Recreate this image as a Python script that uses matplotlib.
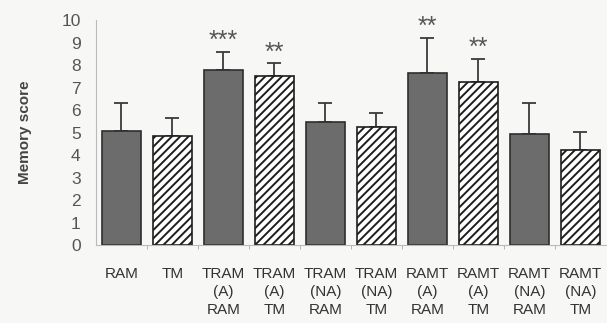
import matplotlib
matplotlib.use("Agg")
import matplotlib.pyplot as plt
import numpy as np

# values
labels = ["RAM", "TM", "TRAM\n(A)\nRAM", "TRAM\n(A)\nTM", "TRAM\n(NA)\nRAM",
          "TRAM\n(NA)\nTM", "RAMT\n(A)\nRAM", "RAMT\n(A)\nTM", "RAMT\n(NA)\nRAM",
          "RAMT\n(NA)\nTM"]
means = [5.05, 4.85, 7.8, 7.5, 5.45, 5.27, 7.65, 7.25, 4.92, 4.22]
upper = [6.32, 5.63, 8.6, 8.07, 6.33, 5.85, 9.22, 8.28, 6.3, 5.03]
stars = ["", "", "***", "**", "", "", "**", "**", "", ""]

plt.rcParams["font.family"] = ["Liberation Sans", "DejaVu Sans"]
plt.rcParams["hatch.linewidth"] = 1.4

bg = "#f7f7f5"
fig = plt.figure(figsize=(6.07, 3.23), dpi=100, facecolor=bg)
ax = fig.add_axes([0.158, 0.241, 0.84, 0.697], facecolor=bg)

x = np.arange(len(means))
err = np.array(upper) - np.array(means)
for i in x:
    if i % 2 == 0:
        ax.bar(i, means[i], width=0.77, color="#6c6c6c", edgecolor="#2e2e2e",
               linewidth=1.2, zorder=2)
    else:
        ax.bar(i, means[i], width=0.77, color="white", edgecolor="#1e1e1e",
               hatch="////", linewidth=1.2, zorder=2)
    ax.errorbar(i, means[i], yerr=[[0], [err[i]]], color="#3a3a3a",
                elinewidth=1.3, capsize=5, capthick=1.3, zorder=1)
    if stars[i]:
        ax.text(i, upper[i] - 0.05, stars[i], ha="center", va="bottom",
                fontsize=18, color="#555555")

ax.set_xlim(-0.5, 9.5)
ax.set_ylim(0, 10)
ax.set_yticks(range(11))
ax.set_xticks(x)
ax.set_xticklabels(labels, fontsize=11, color="#333333", linespacing=1.35)
ax.set_xticks(np.arange(0.5, 9.5, 1), minor=True)
ax.tick_params(axis="x", which="major", length=0, pad=16)
ax.tick_params(axis="x", which="minor", length=3, color="#aaaaaa")
ax.tick_params(axis="y", length=0, labelsize=12.5, labelcolor="#555555", pad=11)
ax.set_ylabel("Memory score", fontsize=11, fontweight="bold", color="#444444")
ax.yaxis.set_label_coords(-0.125, 0.5)

for s in ["top", "right"]:
    ax.spines[s].set_visible(False)
ax.spines["left"].set_color("#bbbbbb")
ax.spines["bottom"].set_color("#bbbbbb")

fig.savefig("out.png", dpi=100, facecolor=bg)
